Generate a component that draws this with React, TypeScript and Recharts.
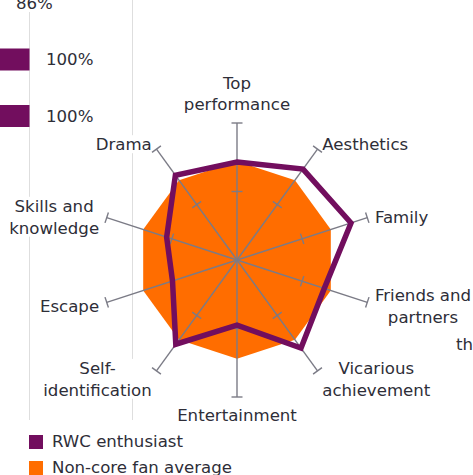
import React from 'react';
import {
  RadarChart,
  Radar,
  PolarAngleAxis,
  PolarRadiusAxis,
  BarChart,
  Bar,
  XAxis,
  YAxis,
  LabelList,
} from 'recharts';

// ---------- data ----------
const categories = [
  'Top performance',
  'Aesthetics',
  'Family',
  'Friends and partners',
  'Vicarious achievement',
  'Entertainment',
  'Self-identification',
  'Escape',
  'Skills and knowledge',
  'Drama',
];
const labelLines = [
  ['Top', 'performance'],
  ['Aesthetics'],
  ['Family'],
  ['Friends and', 'partners'],
  ['Vicarious', 'achievement'],
  ['Entertainment'],
  ['Self-', 'identification'],
  ['Escape'],
  ['Skills and', 'knowledge'],
  ['Drama'],
];
const enthusiastValues = [0.715, 0.82, 0.875, 0.67, 0.795, 0.475, 0.76, 0.495, 0.54, 0.765];
const nonCoreValues = [0.72, 0.72, 0.72, 0.72, 0.72, 0.72, 0.72, 0.72, 0.72, 0.72];
const radiusTicks = [0.5, 1];
const seriesNames = ['RWC enthusiast', 'Non-core fan average'];

const barCategories = ['Row 1', 'Row 2', 'Row 3'];
const barValues = [86, 100, 100];

// ---------- styles ----------
const FONT = '"DejaVu Sans", sans-serif';
const FS = 16.6;
const LH = 21.8;
const TEXT = '#2e2e38';
const PURPLE = '#720e5e';
const ORANGE = '#ff6d00';
const SPOKE = '#7b7b86';
const GRID = '#dedede';
const CX = 237;
const CY = 260;
const R = 137;
const W = 473;
const H = 421;

const radarData = categories.map((name, i) => ({
  name,
  enthusiast: enthusiastValues[i],
  average: nonCoreValues[i],
}));
const barData = barCategories.map((name, i) => ({ name, value: barValues[i] }));

let ctx: CanvasRenderingContext2D | null = null;
function measure(s: string): number {
  if (!ctx) ctx = document.createElement('canvas').getContext('2d');
  if (!ctx) return s.length * FS * 0.6;
  ctx.font = `${FS}px "DejaVu Sans"`;
  return ctx.measureText(s).width;
}

const AngleLabel = (props: any) => {
  const { x, y, payload, textAnchor } = props;
  const i = categories.indexOf(payload?.value);
  if (i < 0) return <g />;
  const lines = labelLines[i];
  const w = Math.max(...lines.map(measure));
  const n = lines.length;
  let cx = x;
  if (textAnchor === 'start') cx = x + w / 2;
  else if (textAnchor === 'end') cx = x - w / 2;
  let first: number;
  if (Math.abs(x - CX) < 1) {
    first = y < CY ? y - 10.5 - (n - 1) * LH : y + 10;
  } else {
    first = y + 1.5 - ((n - 1) * LH) / 2;
  }
  return (
    <g>
      <rect x={cx - w / 2 - 1} y={first - 9} width={w + 2} height={(n - 1) * LH + 18} fill="#ffffff" />
      {lines.map((l, k) => (
        <text
          key={k}
          x={cx}
          y={first + k * LH}
          dy="0.36em"
          textAnchor="middle"
          fontFamily={FONT}
          fontSize={FS}
          fill={TEXT}
        >
          {l}
        </text>
      ))}
    </g>
  );
};

// spoke + perpendicular tick marks, drawn from the angle axis tick position
const SpokeTick = (props: any) => {
  const { x, y } = props;
  const dx = x - CX;
  const dy = y - CY;
  const len = Math.sqrt(dx * dx + dy * dy) || 1;
  const ux = dx / len;
  const uy = dy / len;
  const half = 5.5;
  return (
    <g>
      <line x1={CX} y1={CY} x2={CX + ux * R} y2={CY + uy * R} stroke={SPOKE} strokeWidth={1.4} />
      {radiusTicks.map((t) => {
        const px = CX + ux * R * t;
        const py = CY + uy * R * t;
        return (
          <line
            key={t}
            x1={px - uy * half}
            y1={py + ux * half}
            x2={px + uy * half}
            y2={py - ux * half}
            stroke={SPOKE}
            strokeWidth={1.4}
          />
        );
      })}
    </g>
  );
};

const BarValueLabel = (props: any) => {
  const vb = props.viewBox || {};
  const x = props.x ?? vb.x;
  const y = props.y ?? vb.y;
  const width = props.width ?? vb.width;
  const height = props.height ?? vb.height;
  const txt = `${props.value}%`;
  const tx = x + width + 16.5;
  const ty = y + height / 2;
  const w = measure(txt);
  return (
    <g>
      <rect x={tx - 1} y={ty - 9} width={w + 2} height={18} fill="#ffffff" />
      <text x={tx} y={ty} dy="0.36em" fontFamily={FONT} fontSize={FS} fill={TEXT}>
        {txt}
      </text>
    </g>
  );
};

const abs: React.CSSProperties = { position: 'absolute', left: 0, top: 0 };

export default function App() {
  return (
    <div style={{ position: 'absolute', left: 0, top: 0, width: W, height: 475, background: '#fff', fontFamily: FONT }}>
      <div style={{ position: 'absolute', left: 0, top: 0, width: W, height: H, overflow: 'hidden' }}>
        {/* background divider lines of neighbouring panel */}
        <div style={{ position: 'absolute', left: 29, top: 0, width: 1, height: 420, background: GRID }} />
        <div style={{ position: 'absolute', left: 132, top: 0, width: 1, height: 420, background: GRID }} />

        {/* partially visible bar chart on the left */}
        <div style={{ position: 'absolute', left: -185, top: -25.25 }}>
          <BarChart
            width={294.5}
            height={169.5}
            data={barData}
            layout="vertical"
            margin={{ top: 0, right: 80, bottom: 0, left: 0 }}
          >
            <XAxis type="number" domain={[0, 100]} hide />
            <YAxis type="category" dataKey="name" hide width={0} />
            <Bar dataKey="value" fill={PURPLE} barSize={22} isAnimationActive={false}>
              <LabelList dataKey="value" content={BarValueLabel} />
            </Bar>
          </BarChart>
        </div>

        {/* layer 1: orange area + labels */}
        <div style={abs}>
          <RadarChart width={W} height={H} cx={CX} cy={CY} outerRadius={R} data={radarData}>
            <PolarAngleAxis dataKey="name" axisLine={false} tickLine={false} tick={AngleLabel} />
            <PolarRadiusAxis domain={[0, 1]} axisLine={false} tick={false} />
            <Radar dataKey="average" fill={ORANGE} fillOpacity={1} stroke="none" isAnimationActive={false} />
          </RadarChart>
        </div>

        {/* layer 2: spokes with tick marks */}
        <div style={abs}>
          <RadarChart width={W} height={H} cx={CX} cy={CY} outerRadius={R} data={radarData}>
            <PolarAngleAxis dataKey="name" axisLine={false} tickLine={false} tick={SpokeTick} />
            <PolarRadiusAxis domain={[0, 1]} axisLine={false} tick={false} />
            <Radar dataKey="average" fill="none" stroke="none" isAnimationActive={false} />
          </RadarChart>
        </div>

        {/* layer 3: enthusiast outline */}
        <div style={abs}>
          <RadarChart width={W} height={H} cx={CX} cy={CY} outerRadius={R} data={radarData}>
            <PolarAngleAxis dataKey="name" axisLine={false} tickLine={false} tick={false} />
            <PolarRadiusAxis domain={[0, 1]} axisLine={false} tick={false} />
            <Radar
              dataKey="enthusiast"
              fill="none"
              fillOpacity={0}
              stroke={PURPLE}
              strokeWidth={5.5}
              strokeLinejoin="miter"
              isAnimationActive={false}
            />
          </RadarChart>
        </div>

        <div style={{ position: 'absolute', left: 456, top: 335, fontSize: FS, lineHeight: '20px', color: TEXT, whiteSpace: 'nowrap' }}>
          th
        </div>
      </div>

      {/* legend */}
      {seriesNames.map((s, i) => (
        <div key={s} style={{ position: 'absolute', left: 29, top: 435 + i * 26, height: 14, display: 'flex', alignItems: 'center' }}>
          <div style={{ width: 14, height: 14, background: i === 0 ? PURPLE : ORANGE }} />
          <div style={{ marginLeft: 9, fontSize: FS, color: TEXT, whiteSpace: 'nowrap', lineHeight: '14px' }}>{s}</div>
        </div>
      ))}
    </div>
  );
}
